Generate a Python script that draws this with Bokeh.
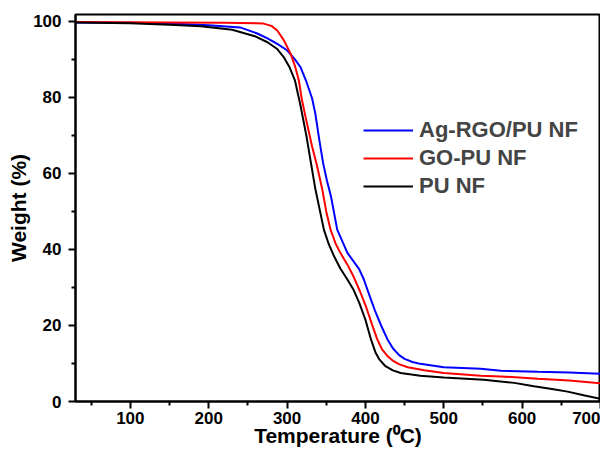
from bokeh.plotting import figure
from bokeh.models import FixedTicker, Legend, LegendItem, Range1d
from bokeh.embed import file_html
from bokeh.resources import INLINE

# ---- data ----
temp_ag = [30, 100, 150, 200, 240, 262, 275, 288, 300, 310, 317, 324, 332, 336, 341, 346, 351, 356,
           364, 377, 392, 398, 405, 412, 420, 428, 435, 443, 450, 460, 470, 500, 547, 573, 620, 660, 700]
wt_ag = [99.7, 99.6, 99.4, 99.0, 98.4, 96.8, 95.5, 94.0, 92.4, 90.0, 88.0, 84.5, 79.7, 75.8, 69.0, 62.7, 58.0, 54.0,
         45.2, 39.1, 34.8, 32.1, 28.0, 24.0, 20.0, 16.4, 14.0, 12.2, 11.2, 10.4, 9.9, 9.0, 8.6, 8.1, 7.8, 7.6, 7.3]

temp_go = [30, 150, 220, 260, 270, 280, 287.5, 296, 304.5, 310, 315, 319, 325, 332, 338, 345, 350, 355.5,
           362, 368, 377, 385, 393, 401, 408, 415, 421, 428, 434, 442, 454, 475, 500, 547, 573, 620, 660, 700]
wt_go = [99.8, 99.7, 99.6, 99.5, 99.4, 98.8, 97.6, 95.0, 91.5, 88.3, 84.5, 79.3, 73.5, 67.0, 62.2, 55.7, 50.0, 45.2,
         41.5, 39.1, 36.0, 32.8, 29.0, 24.8, 20.5, 16.4, 13.8, 12.0, 10.9, 9.9, 9.0, 8.2, 7.5, 6.8, 6.6, 6.0, 5.5, 4.8]

temp_pu = [30, 100, 150, 190, 230, 260, 275, 287, 296, 303, 310, 317, 325, 336, 347, 353, 360, 368, 377, 385,
           392, 400, 407, 413, 418, 425, 435, 445, 470, 500, 551, 590, 615, 640, 658, 680, 700]
wt_pu = [99.7, 99.5, 99.1, 98.7, 97.8, 96.0, 94.5, 92.8, 90.5, 88.0, 84.5, 78.0, 69.5, 56.0, 45.2, 41.5, 38.2, 35.0, 32.1, 29.3,
         26.0, 21.5, 16.4, 12.8, 11.0, 9.4, 8.2, 7.5, 6.8, 6.3, 5.7, 4.9, 4.0, 3.2, 2.6, 1.6, 0.7]

series_names = ["Ag-RGO/PU NF", "GO-PU NF", "PU NF"]
x_major = [100, 200, 300, 400, 500, 600, 700]
x_minor = [50, 150, 250, 350, 450, 550, 650]
y_major = [0, 20, 40, 60, 80, 100]
y_minor = [10, 30, 50, 70, 90]

FONT = "Liberation Sans"

p = figure(width=600, height=452, output_backend="svg", toolbar_location=None,
           x_range=Range1d(30, 700), y_range=Range1d(0, 101.8),
           min_border_left=75, min_border_right=0, min_border_top=14, min_border_bottom=51,
           background_fill_color="white", border_fill_color="white")

p.xgrid.visible = False
p.ygrid.visible = False
p.outline_line_color = "black"
p.outline_line_width = 2

p.xaxis.ticker = FixedTicker(ticks=x_major, minor_ticks=x_minor)
p.yaxis.ticker = FixedTicker(ticks=y_major, minor_ticks=y_minor)
p.xaxis.axis_label = "Temperature (\u2070C)"
p.yaxis.axis_label = "Weight (%)"

for ax in (p.xaxis, p.yaxis):
    ax.axis_line_width = 2
    ax.axis_line_color = "black"
    ax.major_tick_line_width = 2
    ax.minor_tick_line_width = 2
    ax.major_tick_line_color = "black"
    ax.minor_tick_line_color = "black"
    ax.major_tick_out = 7
    ax.major_tick_in = 0
    ax.minor_tick_out = 4
    ax.minor_tick_in = 0
    ax.major_label_text_font = FONT
    ax.major_label_text_font_style = "bold"
    ax.major_label_text_font_size = "17px"
    ax.major_label_text_color = "black"
    ax.axis_label_text_font = FONT
    ax.axis_label_text_font_style = "bold"
    ax.axis_label_text_font_size = "21px"
    ax.axis_label_text_color = "black"

p.xaxis.major_label_standoff = 3
p.xaxis.axis_label_standoff = -3
p.yaxis.major_label_standoff = 7
p.yaxis.axis_label_standoff = 0

r_ag = p.line(temp_ag, wt_ag, line_color="#0000FF", line_width=2)
r_go = p.line(temp_go, wt_go, line_color="#FF0000", line_width=2)
r_pu = p.line(temp_pu, wt_pu, line_color="#000000", line_width=2)

legend = Legend(items=[LegendItem(label=series_names[0], renderers=[r_ag]),
                       LegendItem(label=series_names[1], renderers=[r_go]),
                       LegendItem(label=series_names[2], renderers=[r_pu])],
                location=(288, 202), border_line_color=None, background_fill_alpha=0,
                padding=0, margin=0, spacing=2, glyph_width=50, glyph_height=24,
                label_height=24, label_standoff=6, label_text_font=FONT,
                label_text_font_style="bold", label_text_font_size="22px")
p.add_layout(legend)

open("out.html", "w").write(file_html(p, INLINE))
